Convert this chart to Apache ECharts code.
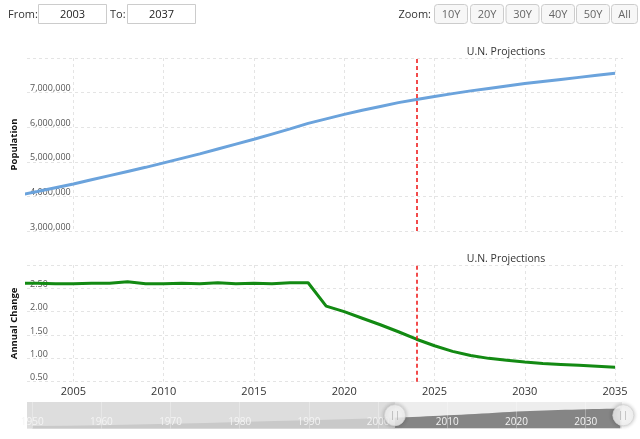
<!DOCTYPE html>
<html>
<head>
<meta charset="utf-8">
<script src="https://cdn.jsdelivr.net/npm/echarts@6/dist/echarts.min.js"></script>
<style>
html,body{margin:0;padding:0;background:#fff;}
#chart{width:640px;height:439px;}
</style>
</head>
<body>
<div id="chart"></div>
<script>
// ---- data ----
const years = [2002,2003,2004,2005,2006,2007,2008,2009,2010,2011,2012,2013,2014,2015,2016,2017,2018,2019,2020,2021,2022,2023,2024,2025,2026,2027,2028,2029,2030,2031,2032,2033,2034,2035];
const population = [4040000,4140000,4250000,4360000,4480000,4600000,4720000,4840000,4970000,5100000,5230000,5370000,5510000,5650000,5800000,5950000,6110000,6240000,6370000,6490000,6600000,6710000,6800000,6890000,6970000,7050000,7120000,7190000,7260000,7320000,7380000,7440000,7500000,7560000];
const annualChange = [2.61,2.61,2.60,2.60,2.61,2.61,2.64,2.60,2.60,2.61,2.60,2.62,2.60,2.61,2.60,2.62,2.62,2.12,2.00,1.86,1.72,1.57,1.41,1.27,1.15,1.06,1.00,0.96,0.92,0.89,0.87,0.85,0.83,0.81];
const histYears = [1950,1955,1960,1965,1970,1975,1980,1985,1990,1995,2000];
const histPopulation = [900000,1050000,1250000,1500000,1780000,2100000,2450000,2800000,3150000,3500000,3850000];
const xRange = [2002.43, 2035.44];
const navRange = [1949.25, 2035.25];
const projectionStart = 2024;
const xTicks = [2005,2010,2015,2020,2025,2030,2035];
const navTicks = [1950,1960,1970,1980,1990,2000,2010,2020,2030];
const popAxis = {min: 3000000, max: 8000000, step: 1000000};
const changeAxis = {min: 0.5, max: 3.0, step: 0.5};
const fromYear = '2003', toYear = '2037';
const zoomButtons = ['10Y','20Y','30Y','40Y','50Y','All'];
const chartTitle = 'U.N. Projections';
const popName = 'Population', changeName = 'Annual Change';

// ---- build ----
const FONT = 'Open Sans';
const popData = years.map((y,i)=>[y, population[i]]);
const chgData = years.map((y,i)=>[y, annualChange[i]]);
const navData = histYears.map((y,i)=>[y, histPopulation[i]]).concat(popData);

const grid = [
  {left: 27, right: 17, top: 58, height: 173},
  {left: 27, right: 17, top: 265, height: 116.7},
  {left: 27, right: 18, top: 402, height: 26.5}
];

const dashed = {show: true, lineStyle: {color: '#e4e4e4', type: [3,3], width: 1}};

function mainX(gi, showLabels){
  return {
    type: 'value', gridIndex: gi, min: xRange[0], max: xRange[1],
    axisLine: {show: false}, axisTick: {show: false, customValues: xTicks},
    axisLabel: {show: showLabels, customValues: xTicks, color: '#333', fontSize: 11, margin: 5, fontFamily: FONT,
      formatter: v => String(v)},
    splitLine: dashed
  };
}

function yLabel(fmt){
  return {inside: true, margin: 3, showMaxLabel: false, color: '#555', fontSize: 9, fontFamily: FONT,
    verticalAlign: 'bottom', lineHeight: 8, formatter: fmt};
}

const buttonsGraphic = [];
const btnX = [434, 470, 505.5, 541, 576, 611];
const btnW = [33, 33, 33, 33, 33, 26];
zoomButtons.forEach((b,i)=>{
  buttonsGraphic.push({type:'rect', shape:{x:btnX[i]+0.5, y:4.5, width:btnW[i], height:19, r:3},
    style:{fill:'#f7f7f7', stroke:'#cccccc', lineWidth:1}});
  buttonsGraphic.push({type:'text', x: btnX[i]+0.5+btnW[i]/2, y: 14.5,
    style:{text:b, fill:'#666', font:'11px "Open Sans"', textAlign:'center', textVerticalAlign:'middle'}});
});

const option = {
  animation: false,
  textStyle: {fontFamily: FONT},
  grid: grid,
  title: [
    {text: chartTitle, left: 501, top: 42, textAlign: 'center', textStyle: {fontSize: 10.5, fontWeight: 'normal', color: '#333', fontFamily: FONT}},
    {text: chartTitle, left: 501, top: 249, textAlign: 'center', textStyle: {fontSize: 10.5, fontWeight: 'normal', color: '#333', fontFamily: FONT}}
  ],
  xAxis: [
    mainX(0, false),
    mainX(1, true),
    {type: 'value', gridIndex: 2, min: navRange[0], max: navRange[1], z: 10,
      axisLine: {show: false}, axisTick: {show: false, customValues: navTicks},
      axisLabel: {customValues: navTicks, inside: true, margin: 1, color: '#f4f4f4', fontSize: 10, fontFamily: FONT, formatter: v => String(v)},
      splitLine: {show: true, lineStyle: {color: 'rgba(255,255,255,0.3)', width: 1}}}
  ],
  yAxis: [
    {type: 'value', gridIndex: 0, min: popAxis.min, max: popAxis.max, interval: popAxis.step,
      name: popName, nameLocation: 'middle', nameGap: 8, nameRotate: 90,
      nameTextStyle: {fontWeight: 'bold', fontSize: 9.5, color: '#111', fontFamily: FONT},
      axisLine: {show: false}, axisTick: {show: false},
      axisLabel: yLabel(v => v.toLocaleString('en-US')),
      splitLine: dashed},
    {type: 'value', gridIndex: 1, min: changeAxis.min, max: changeAxis.max, interval: changeAxis.step,
      name: changeName, nameLocation: 'middle', nameGap: 8, nameRotate: 90,
      nameTextStyle: {fontWeight: 'bold', fontSize: 9.5, color: '#111', fontFamily: FONT},
      axisLine: {show: false}, axisTick: {show: false},
      axisLabel: yLabel(v => v.toFixed(2)),
      splitLine: dashed},
    {type: 'value', gridIndex: 2, min: 0, max: 10000000, show: false, splitLine: {show: false}}
  ],
  series: [
    {type: 'line', xAxisIndex: 0, yAxisIndex: 0, data: popData, showSymbol: false, clip: true,
      lineStyle: {color: '#6ba3dc', width: 3}, itemStyle: {color: '#6ba3dc'},
      markLine: {silent: true, symbol: 'none', label: {show: false},
        lineStyle: {color: '#ee1111', type: [4,3], width: 1.5}, data: [{xAxis: projectionStart}]}},
    {type: 'line', xAxisIndex: 1, yAxisIndex: 1, data: chgData, showSymbol: false, clip: true,
      lineStyle: {color: '#138a13', width: 3}, itemStyle: {color: '#138a13'},
      markLine: {silent: true, symbol: 'none', label: {show: false},
        lineStyle: {color: '#ee1111', type: [4,3], width: 1.5}, data: [{xAxis: projectionStart}]}},
    {type: 'line', xAxisIndex: 2, yAxisIndex: 2, data: navData, showSymbol: false, clip: true,
      lineStyle: {width: 0, color: '#858585'}, itemStyle: {color: '#858585'}, areaStyle: {color: '#858585', opacity: 1},
      markArea: {silent: true, label: {show: false}, itemStyle: {color: '#ededed'}, data: [
        [{xAxis: navRange[0]}, {xAxis: navRange[1]}]
      ]}},
    {type: 'line', xAxisIndex: 2, yAxisIndex: 2, data: [[navRange[0], 0]], showSymbol: false, silent: true,
      lineStyle: {opacity: 0},
      markArea: {z: 4, silent: true, label: {show: false}, itemStyle: {color: 'rgba(217,217,217,0.81)'}, data: [
        [{xAxis: navRange[0]}, {xAxis: xRange[0]}]
      ]}},
    {type: 'scatter', xAxisIndex: 2, yAxisIndex: 2, clip: false, z: 12,
      data: [[xRange[0], 5000000], [xRange[1], 5000000]],
      symbol: 'circle', symbolSize: 21,
      itemStyle: {color: '#ffffff', borderColor: '#d4d4d4', borderWidth: 1, shadowBlur: 4, shadowColor: 'rgba(0,0,0,0.3)'},
      label: {show: true, position: 'inside', formatter: '||', color: '#999', fontSize: 9}}
  ],
  graphic: [
    {type:'text', x: 8, y: 14.5, style:{text:'From:', fill:'#333', font:'11px "Open Sans"', textVerticalAlign:'middle'}},
    {type:'rect', shape:{x:38.5, y:4.5, width:68, height:19}, style:{fill:'#fff', stroke:'#cccccc', lineWidth:1}},
    {type:'text', x: 72.5, y: 14.5, style:{text:fromYear, fill:'#222', font:'11px "Open Sans"', textAlign:'center', textVerticalAlign:'middle'}},
    {type:'text', x: 110, y: 14.5, style:{text:'To:', fill:'#333', font:'11px "Open Sans"', textVerticalAlign:'middle'}},
    {type:'rect', shape:{x:127.5, y:4.5, width:68, height:19}, style:{fill:'#fff', stroke:'#cccccc', lineWidth:1}},
    {type:'text', x: 161.5, y: 14.5, style:{text:toYear, fill:'#222', font:'11px "Open Sans"', textAlign:'center', textVerticalAlign:'middle'}},
    {type:'text', x: 431, y: 14.5, style:{text:'Zoom:', fill:'#333', font:'11px "Open Sans"', textAlign:'right', textVerticalAlign:'middle'}}
  ].concat(buttonsGraphic)
};

const chart = echarts.init(document.getElementById('chart'), null, {renderer: 'canvas'});
chart.setOption(option);
</script>
</body>
</html>
